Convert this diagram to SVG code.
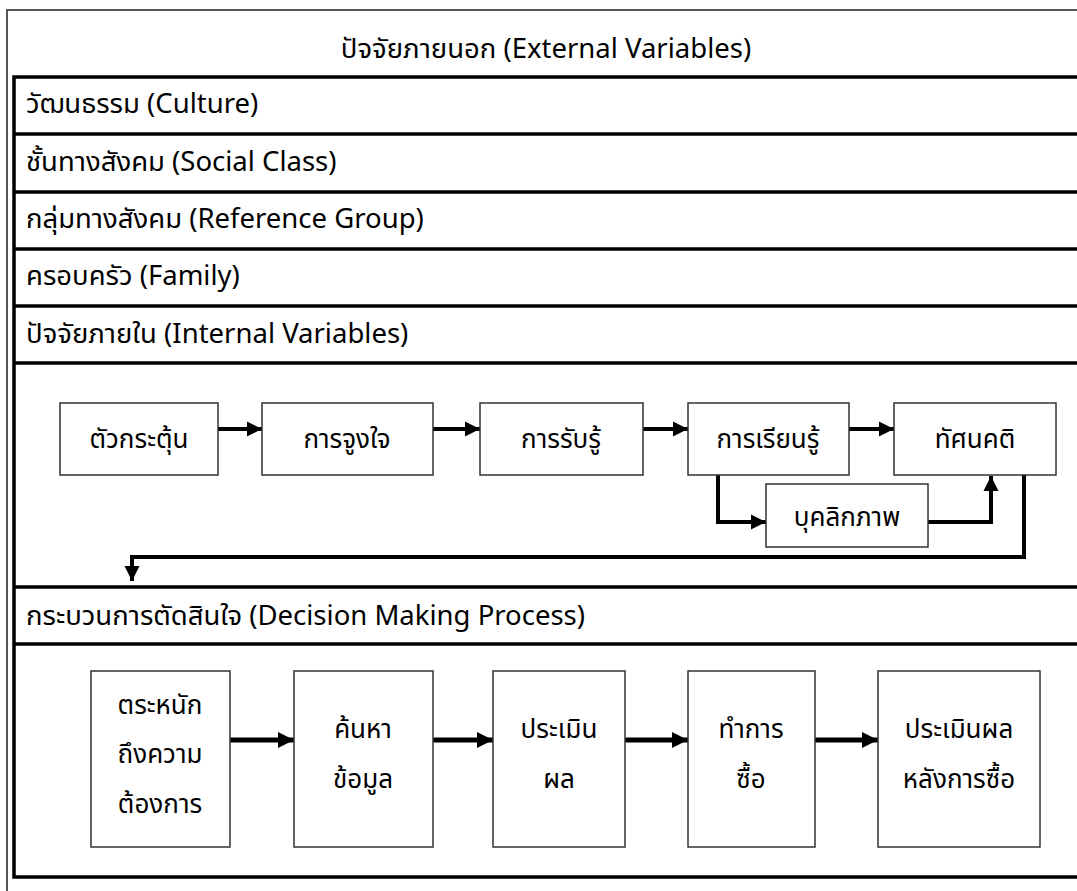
<svg xmlns="http://www.w3.org/2000/svg" width="1077" height="891" viewBox="0 0 1077 891">
<style>
  text { font-family: "Noto Sans Thai", "Noto Sans Thai UI", "Noto Sans", "DejaVu Sans", sans-serif; font-size: 27.5px; fill: #000; }
  .c { text-anchor: middle; }
  .b { font-size: 26px; }
  .frame { fill: none; stroke: #555; stroke-width: 2; }
  .rowline { stroke: #000; stroke-width: 3.5; fill: none; }
  .box { fill: #fff; stroke: #333; stroke-width: 1.5; }
  .conn { fill: none; stroke: #000; stroke-width: 4; }
  .conn2 { fill: none; stroke: #000; stroke-width: 5; }
</style>
<defs>
  <marker id="ah" markerUnits="userSpaceOnUse" markerWidth="16" markerHeight="16" refX="15" refY="8" orient="auto">
    <path d="M0,0.5 L15,8 L0,15.5 Z" fill="#000"/>
  </marker>
  <marker id="ah2" markerUnits="userSpaceOnUse" markerWidth="18" markerHeight="18" refX="16" refY="9" orient="auto">
    <path d="M0,1 L16,9 L0,17 Z" fill="#000"/>
  </marker>
</defs>
<rect width="1077" height="891" fill="#fff"/>

<!-- outer thin frame -->
<rect class="frame" x="7" y="10" width="1090" height="900"/>
<!-- inner thick frame and rows -->
<g id="table">
  <rect class="rowline" x="14" y="77" width="1090" height="800"/>
  <line class="rowline" x1="14" y1="134" x2="1077" y2="134"/>
  <line class="rowline" x1="14" y1="192" x2="1077" y2="192"/>
  <line class="rowline" x1="14" y1="249" x2="1077" y2="249"/>
  <line class="rowline" x1="14" y1="306" x2="1077" y2="306"/>
  <line class="rowline" x1="14" y1="363" x2="1077" y2="363"/>
  <line class="rowline" x1="14" y1="587" x2="1077" y2="587"/>
  <line class="rowline" x1="14" y1="644" x2="1077" y2="644"/>
</g>

<g id="labels">
  <text class="c" x="546" y="58">ปัจจัยภายนอก (External Variables)</text>
  <text x="26" y="113">วัฒนธรรม (Culture)</text>
  <text x="26" y="171">ชั้นทางสังคม (Social Class)</text>
  <text x="26" y="228">กลุ่มทางสังคม (Reference Group)</text>
  <text x="26" y="285">ครอบครัว (Family)</text>
  <text x="26" y="343">ปัจจัยภายใน (Internal Variables)</text>
  <text x="26" y="625">กระบวนการตัดสินใจ (Decision Making Process)</text>
</g>

<g id="connectors">
  <line class="conn" x1="218" y1="429" x2="262" y2="429" marker-end="url(#ah)"/>
  <line class="conn" x1="433" y1="429" x2="480" y2="429" marker-end="url(#ah)"/>
  <line class="conn" x1="643" y1="429" x2="688" y2="429" marker-end="url(#ah)"/>
  <line class="conn" x1="849" y1="429" x2="894" y2="429" marker-end="url(#ah)"/>
  <polyline class="conn" points="718,475 718,522 766,522" marker-end="url(#ah)"/>
  <polyline class="conn" points="928,522 991,522 991,476" marker-end="url(#ah)"/>
  <polyline class="conn" points="1024,475 1024,557 132,557 132,581" marker-end="url(#ah)"/>
  <line class="conn2" x1="230" y1="740" x2="294" y2="740" marker-end="url(#ah2)"/>
  <line class="conn2" x1="433" y1="740" x2="493" y2="740" marker-end="url(#ah2)"/>
  <line class="conn2" x1="625" y1="740" x2="688" y2="740" marker-end="url(#ah2)"/>
  <line class="conn2" x1="815" y1="740" x2="878" y2="740" marker-end="url(#ah2)"/>
</g>

<g id="n-stimulus"><rect class="box" x="60" y="403" width="158" height="72"/><text class="c b" x="139" y="448">ตัวกระตุ้น</text></g>
<g id="n-motivation"><rect class="box" x="262" y="403" width="171" height="72"/><text class="c b" x="347" y="448">การจูงใจ</text></g>
<g id="n-perception"><rect class="box" x="480" y="403" width="163" height="72"/><text class="c b" x="561" y="448">การรับรู้</text></g>
<g id="n-learning"><rect class="box" x="688" y="403" width="161" height="72"/><text class="c b" x="768" y="448">การเรียนรู้</text></g>
<g id="n-attitude"><rect class="box" x="894" y="403" width="162" height="72"/><text class="c b" x="975" y="448">ทัศนคติ</text></g>
<g id="n-personality"><rect class="box" x="766" y="484" width="162" height="63"/><text class="c b" x="847" y="526">บุคลิกภาพ</text></g>

<g id="n-need"><rect class="box" x="91" y="671" width="139" height="176"/>
  <text class="c b" x="160" y="714">ตระหนัก</text><text class="c b" x="160" y="763">ถึงความ</text><text class="c b" x="160" y="813">ต้องการ</text></g>
<g id="n-search"><rect class="box" x="294" y="671" width="139" height="176"/>
  <text class="c b" x="363" y="738">ค้นหา</text><text class="c b" x="363" y="788">ข้อมูล</text></g>
<g id="n-evaluate"><rect class="box" x="493" y="671" width="132" height="176"/>
  <text class="c b" x="559" y="738">ประเมิน</text><text class="c b" x="559" y="788">ผล</text></g>
<g id="n-purchase"><rect class="box" x="688" y="671" width="127" height="176"/>
  <text class="c b" x="751" y="738">ทำการ</text><text class="c b" x="751" y="788">ซื้อ</text></g>
<g id="n-post"><rect class="box" x="878" y="671" width="162" height="176"/>
  <text class="c b" x="959" y="738">ประเมินผล</text><text class="c b" x="959" y="788">หลังการซื้อ</text></g>
</svg>
